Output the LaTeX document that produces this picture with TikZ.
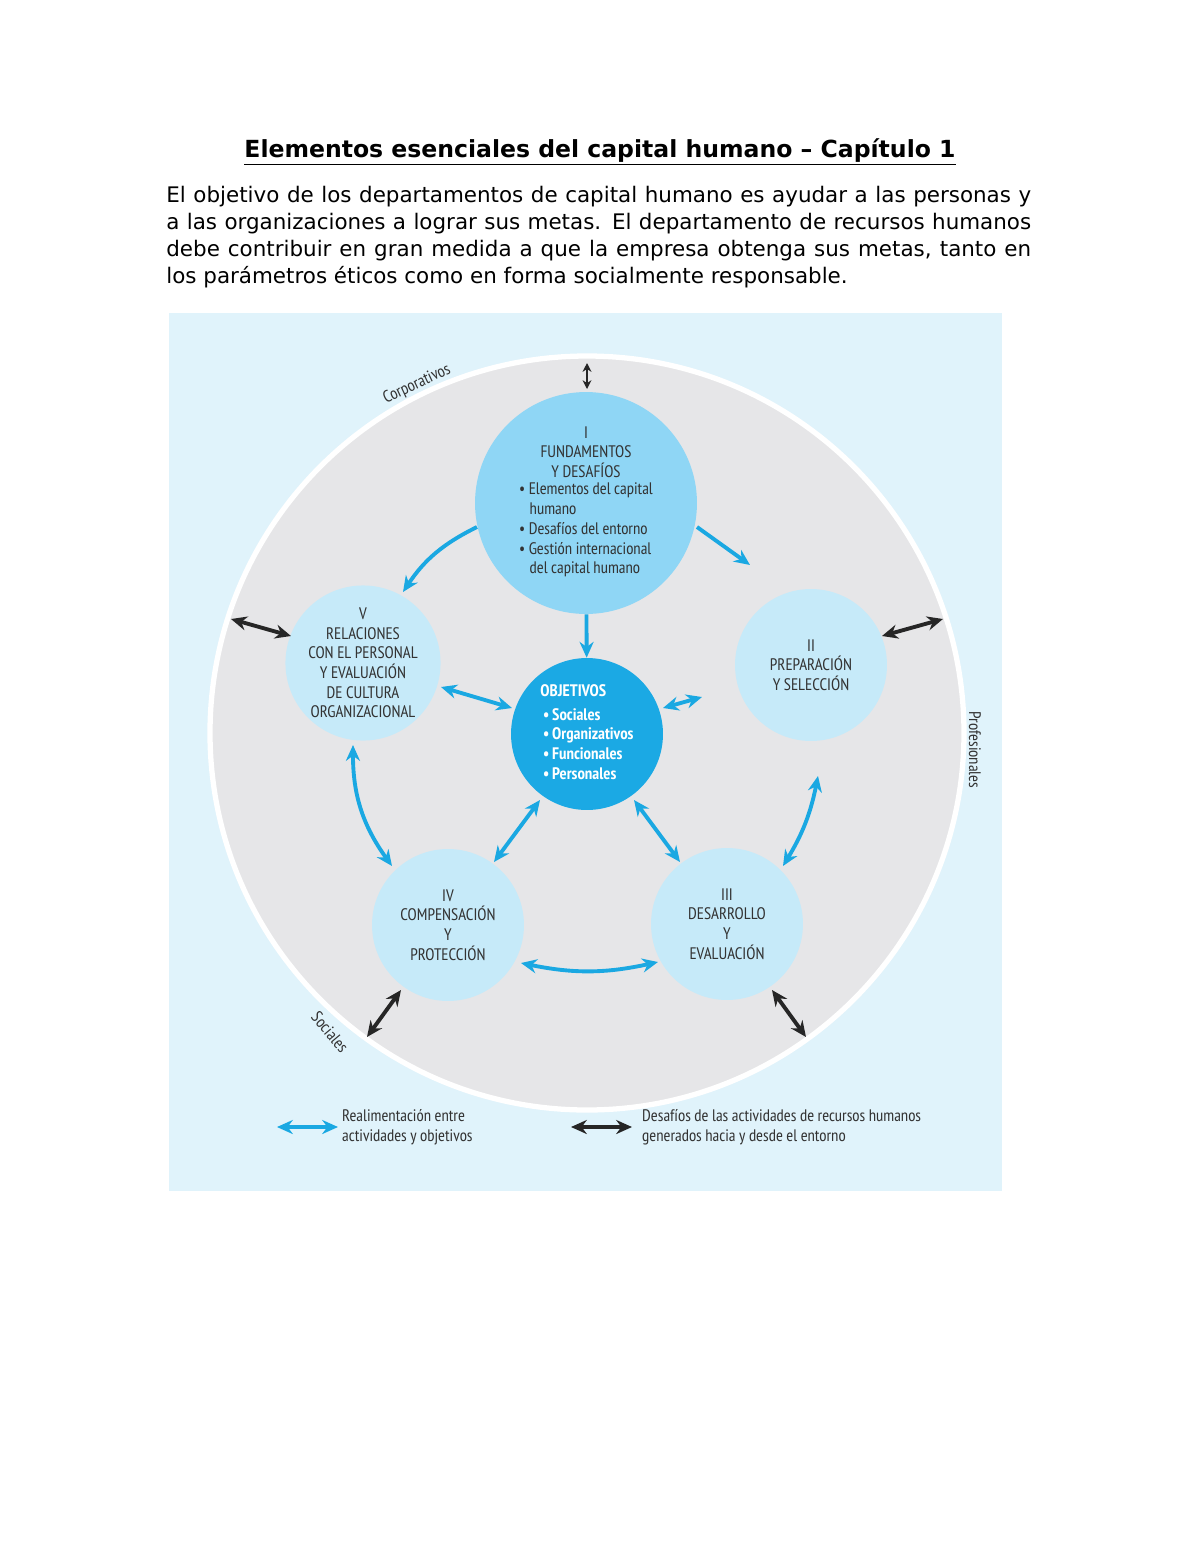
\documentclass[tikz,border=0pt]{standalone}
\usepackage{fontspec}
\setmainfont{DejaVu Sans}
\newfontfamily\diag{PT Sans Narrow}[Scale=1]
\usetikzlibrary{arrows.meta}
\definecolor{bgblue}{HTML}{E0F3FB}
\definecolor{ringgray}{HTML}{E6E6E8}
\definecolor{midblue}{HTML}{8FD6F5}
\definecolor{lightblue}{HTML}{C6EAF9}
\definecolor{deepblue}{HTML}{1BA9E4}
\definecolor{arrowblue}{HTML}{1AA8E2}
\definecolor{txt}{HTML}{333333}
\tikzset{
  blk/.style={circle,minimum size=3.04cm,inner sep=0pt,align=center,font=\diag\fontsize{9.5}{11.2}\selectfont,text=txt},
  feed/.style={draw=arrowblue,line width=2.2pt,{Stealth[length=9pt,width=8pt]}-{Stealth[length=9pt,width=8pt]}},
  feedone/.style={draw=arrowblue,line width=2.2pt,-{Stealth[length=9pt,width=8pt]}},
  env/.style={draw=black!85,line width=2.2pt,{Stealth[length=9pt,width=8pt]}-{Stealth[length=9pt,width=8pt]}},
  envshort/.style={draw=black!85,line width=1.5pt,{Stealth[length=5pt,width=5pt]}-{Stealth[length=5pt,width=5pt]}},
  lbl/.style={font=\diag\fontsize{9.5}{11.2}\selectfont,text=txt}
}
\begin{document}
\begin{tikzpicture}[x=0.02cm,y=-0.02cm]
  \useasboundingbox (0,0) rectangle (1200,1553);
  \fill[white] (0,0) rectangle (1200,1553);

  % title and text
  \node (title) at (600,152) {\fontsize{13.4}{16}\selectfont\bfseries\underline{Elementos esenciales del capital humano – Capítulo 1}};
  \node[anchor=north west,text width=17.3cm,align=justify,inner sep=0pt,font=\fontsize{12.2}{15.3}\selectfont] (intro) at (166,186)
    {\hyphenpenalty=10000\exhyphenpenalty=10000 El objetivo de los departamentos de capital humano es ayudar a las personas y a las organizaciones a lograr sus metas. El departamento de recursos humanos debe contribuir en gran medida a que la empresa obtenga sus metas, tanto en los parámetros éticos como en forma socialmente responsable.};

  % background and ring
  \fill[bgblue] (169,313) rectangle (1002,1191);
  \fill[ringgray,draw=white,line width=3pt] (587,733) circle (377);

  % blocks
  \node[blk,fill=midblue,minimum size=4.44cm] (fund) at (586,503)
    {I\\FUNDAMENTOS\\Y DESAFÍOS\\[1pt]\begin{tabular}{@{}l@{}}• Elementos del capital\\\hspace{6pt}humano\\• Desafíos del entorno\\• Gestión internacional\\\hspace{6pt}del capital humano\end{tabular}};
  \node[blk,fill=deepblue,text=white,font=\diag\bfseries\fontsize{9.5}{11.2}\selectfont] (obj) at (587,734)
    {\begin{tabular}{@{}l@{}}OBJETIVOS\\[2pt]\,•\,Sociales\\\,•\,Organizativos\\\,•\,Funcionales\\\,•\,Personales\end{tabular}};
  \node[blk,fill=lightblue] (prep) at (811,665) {II\\PREPARACIÓN\\Y SELECCIÓN};
  \node[blk,fill=lightblue] (desa) at (727,924) {III\\DESARROLLO\\Y\\EVALUACIÓN};
  \node[blk,fill=lightblue] (comp) at (448,925) {IV\\COMPENSACIÓN\\Y\\PROTECCIÓN};
  \node[blk,fill=lightblue] (rela) at (363,663) {V\\RELACIONES\\CON EL PERSONAL\\Y EVALUACIÓN\\DE CULTURA\\ORGANIZACIONAL};

  % ring labels
  \node[lbl,rotate=25] (corp) at (417,384) {Corporativos};
  \node[lbl,rotate=-90] (prof) at (975,750) {Profesionales};
  \node[lbl,rotate=-50] (soc) at (330,1032) {Sociales};

  % feedback arrows
  \coordinate (a1) at (477,527); \coordinate (a2) at (403,592);
  \coordinate (b1) at (697,527); \coordinate (b2) at (750,565);
  \coordinate (c1) at (441,687); \coordinate (c2) at (512,708);
  \coordinate (d1) at (663,708); \coordinate (d2) at (702,697);
  \coordinate (e1) at (540,800); \coordinate (e2) at (494,862);
  \coordinate (f1) at (634,800); \coordinate (f2) at (680,862);
  \coordinate (g1) at (353,745); \coordinate (g2) at (392,866);
  \coordinate (h1) at (818,776); \coordinate (h2) at (783,866);
  \coordinate (k1) at (521,963); \coordinate (k2) at (658,962);
  \draw[feedone] (a1) to[bend right=15] (a2);
  \draw[feedone] (b1) -- (b2);
  \draw[feedone] (fund) -- (obj);
  \draw[feed] (c1) -- (c2);
  \draw[feed] (d1) -- (d2);
  \draw[feed] (e1) -- (e2);
  \draw[feed] (f1) -- (f2);
  \draw[feed] (g1) to[bend right=18] (g2);
  \draw[feed] (h1) to[bend left=10] (h2);
  \draw[feed] (k1) to[bend right=12] (k2);

  % environment arrows
  \coordinate (t1) at (587,363); \coordinate (t2) at (587,389);
  \coordinate (l1) at (231,619); \coordinate (l2) at (291,636);
  \coordinate (r1) at (882,636); \coordinate (r2) at (943,619);
  \coordinate (s1) at (367,1037); \coordinate (s2) at (401,990);
  \coordinate (u1) at (772,990); \coordinate (u2) at (806,1037);
  \draw[envshort] (t1) -- (t2);
  \draw[env] (l1) -- (l2);
  \draw[env] (r1) -- (r2);
  \draw[env] (s1) -- (s2);
  \draw[env] (u1) -- (u2);

  % legend
  \coordinate (lg1) at (277,1127); \coordinate (lg2) at (338,1127);
  \coordinate (lg3) at (571,1127); \coordinate (lg4) at (632,1127);
  \draw[feed] (lg1) -- (lg2);
  \draw[env] (lg3) -- (lg4);
  \node[lbl,anchor=west,align=left] (leg1) at (336,1127) {Realimentación entre\\actividades y objetivos};
  \node[lbl,anchor=west,align=left] (leg2) at (636,1127) {Desafíos de las actividades de recursos humanos\\generados hacia y desde el entorno};
\end{tikzpicture}
\end{document}
